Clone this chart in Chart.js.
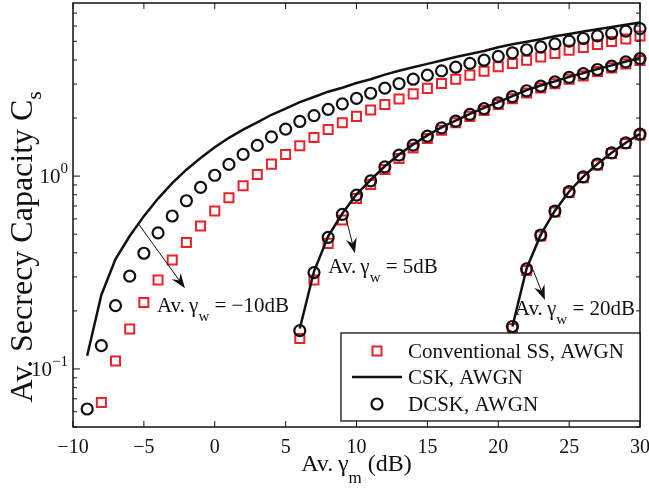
<!DOCTYPE html>
<html>
<head>
<meta charset="utf-8">
<title>Av. Secrecy Capacity</title>
<script src="https://cdn.jsdelivr.net/npm/chart.js@4.4.1/dist/chart.umd.min.js"></script>
<style>
  html, body { margin: 0; padding: 0; background: #fff; }
  #capacityChart { display: block; }
</style>
</head>
<body>
<canvas id="capacityChart" width="649" height="489"></canvas>
<script>
// Av. gamma_m (dB) for each Av. gamma_w group
const gammaM_w10 = [-9, -8, -7, -6, -5, -4, -3, -2, -1, 0, 1, 2, 3, 4, 5, 6, 7, 8, 9, 10,
                    11, 12, 13, 14, 15, 16, 17, 18, 19, 20, 21, 22, 23, 24, 25, 26, 27, 28, 29, 30];
const gammaM_w5 = [6, 7, 8, 9, 10, 11, 12, 13, 14, 15, 16, 17, 18, 19, 20,
                   21, 22, 23, 24, 25, 26, 27, 28, 29, 30];
const gammaM_w20 = [21, 22, 23, 24, 25, 26, 27, 28, 29, 30];

// Conventional SS, AWGN (red squares)
const ssW10 = [null, 0.067, 0.110, 0.161, 0.221, 0.289, 0.367, 0.453, 0.551, 0.659, 0.772, 0.891, 1.02, 1.154, 1.295,
               1.436, 1.587, 1.746, 1.89, 2.04, 2.20, 2.35, 2.51, 2.67, 2.85, 3.02, 3.18, 3.34, 3.50, 3.69,
               3.84, 3.99, 4.15, 4.32, 4.50, 4.64, 4.81, 4.99, 5.14, 5.33];
const ssW5 = [0.144, 0.289, 0.448, 0.592, 0.766, 0.906, 1.083, 1.235, 1.40, 1.567, 1.73, 1.89, 2.04, 2.19, 2.35,
              2.52, 2.70, 2.86, 3.01, 3.18, 3.31, 3.49, 3.64, 3.82, 3.98];
const ssW20 = [0.162, 0.324, 0.489, 0.652, 0.822, 0.982, 1.143, 1.31, 1.475, 1.635];

// CSK, AWGN (solid line)
const cskW10 = [0.117, 0.242, 0.371, 0.489, 0.62, 0.765, 0.92, 1.08, 1.24, 1.41, 1.58, 1.74, 1.90, 2.08, 2.24,
                2.42, 2.57, 2.74, 2.87, 3.04, 3.18, 3.36, 3.52, 3.67, 3.82, 3.98, 4.15, 4.30, 4.45, 4.66,
                4.83, 4.98, 5.13, 5.31, 5.46, 5.62, 5.77, 5.93, 6.09, 6.26];
const cskW5 = [0.162, 0.32, 0.487, 0.64, 0.805, 0.955, 1.125, 1.295, 1.46, 1.625, 1.79, 1.94, 2.10, 2.26, 2.42,
               2.60, 2.79, 2.95, 3.10, 3.27, 3.42, 3.59, 3.75, 3.93, 4.10];
const cskW20 = [0.166, 0.332, 0.497, 0.662, 0.832, 0.994, 1.157, 1.323, 1.49, 1.655];

// DCSK, AWGN (black circles)
const dcskW10 = [0.062, 0.132, 0.213, 0.303, 0.398, 0.508, 0.621, 0.745, 0.874, 1.01, 1.15, 1.295, 1.443, 1.598, 1.752,
                 1.92, 2.06, 2.22, 2.37, 2.53, 2.69, 2.86, 3.02, 3.18, 3.34, 3.51, 3.67, 3.84, 3.99, 4.18,
                 4.36, 4.52, 4.68, 4.85, 5.01, 5.17, 5.33, 5.49, 5.65, 5.82];
const dcskW5 = [0.158, 0.316, 0.481, 0.633, 0.797, 0.945, 1.117, 1.285, 1.447, 1.611, 1.78, 1.927, 2.088, 2.24, 2.40,
                2.58, 2.77, 2.93, 3.08, 3.25, 3.40, 3.57, 3.72, 3.91, 4.07];
const dcskW20 = [0.166, 0.330, 0.495, 0.659, 0.830, 0.992, 1.154, 1.32, 1.488, 1.65];

// Axis ticks
const xTicks = [-10, -5, 0, 5, 10, 15, 20, 25, 30];
const yMajorTicks = [0.1, 1];
const yMinorTicks = [0.05, 0.06, 0.07, 0.08, 0.09, 0.2, 0.3, 0.4, 0.5, 0.6, 0.7, 0.8, 0.9, 2, 3, 4, 5, 6, 7];

// Legend labels
const legendLabels = ['Conventional SS, AWGN', 'CSK, AWGN', 'DCSK, AWGN'];

// Arrow annotations, in data units (x in dB, y in capacity)
const arrowNotes = [
    { from: [-5.37, 0.564], to: [-2.1, 0.262], at: [-4.08, 0.198], value: '\u221210dB' },
    { from: [9.25, 0.61], to: [9.89, 0.398], at: [8.0, 0.313], value: '5dB' },
    { from: [22.46, 0.326], to: [23.29, 0.228], at: [21.17, 0.19], value: '20dB' }
];

const FONT = '"Liberation Serif", "Times New Roman", serif';
const RED = '#e8232b';
const INK = '#111';

function toPoints(xs, ys) {
    const pts = [];
    xs.forEach((x, i) => {
        if (ys[i] !== null) pts.push({ x: x, y: ys[i] });
    });
    return pts;
}

function formatX(v) {
    return v < 0 ? '\u2212' + Math.abs(v) : String(v);
}

// Draw text made of pieces (normal / sub / sup)
function drawRichText(ctx, parts, x, y, align) {
    let total = 0;
    parts.forEach(p => {
        ctx.font = p.size + 'px ' + FONT;
        p.w = ctx.measureText(p.t).width;
        total += p.w;
    });
    let cx = x;
    if (align === 'center') cx = x - total / 2;
    if (align === 'right') cx = x - total;
    ctx.textAlign = 'left';
    ctx.textBaseline = 'alphabetic';
    parts.forEach(p => {
        ctx.font = p.size + 'px ' + FONT;
        ctx.fillText(p.t, cx, y + (p.dy || 0));
        cx += p.w;
    });
}

function drawArrow(ctx, x1, y1, x2, y2) {
    const ang = Math.atan2(y2 - y1, x2 - x1);
    const headLen = 15, halfW = 5.5, notch = 10;
    ctx.beginPath();
    ctx.moveTo(x1, y1);
    ctx.lineTo(x2 - Math.cos(ang) * notch, y2 - Math.sin(ang) * notch);
    ctx.stroke();
    ctx.save();
    ctx.translate(x2, y2);
    ctx.rotate(ang);
    ctx.beginPath();
    ctx.moveTo(0, 0);
    ctx.lineTo(-headLen, -halfW);
    ctx.lineTo(-notch, 0);
    ctx.lineTo(-headLen, halfW);
    ctx.closePath();
    ctx.fill();
    ctx.restore();
}

// Box, inward ticks, y labels, axis titles and arrows
const axesPlugin = {
    id: 'matlabAxes',
    afterDatasetsDraw(chart) {
        const ctx = chart.ctx;
        const area = chart.chartArea;
        const xs = chart.scales.x;
        const ys = chart.scales.y;
        ctx.save();
        ctx.strokeStyle = INK;
        ctx.fillStyle = INK;

        // axes box
        ctx.lineWidth = 1.5;
        ctx.strokeRect(area.left, area.top, area.right - area.left, area.bottom - area.top);

        // ticks
        ctx.lineWidth = 1;
        ctx.beginPath();
        xTicks.forEach(v => {
            const px = xs.getPixelForValue(v);
            ctx.moveTo(px, area.bottom); ctx.lineTo(px, area.bottom - 6);
            ctx.moveTo(px, area.top); ctx.lineTo(px, area.top + 6);
        });
        yMajorTicks.forEach(v => {
            const py = ys.getPixelForValue(v);
            ctx.moveTo(area.left, py); ctx.lineTo(area.left + 7, py);
            ctx.moveTo(area.right, py); ctx.lineTo(area.right - 7, py);
        });
        yMinorTicks.forEach(v => {
            const py = ys.getPixelForValue(v);
            ctx.moveTo(area.left, py); ctx.lineTo(area.left + 4, py);
            ctx.moveTo(area.right, py); ctx.lineTo(area.right - 4, py);
        });
        ctx.stroke();

        // y tick labels 10^-1, 10^0
        yMajorTicks.forEach(v => {
            const py = ys.getPixelForValue(v);
            const exp = Math.round(Math.log10(v));
            drawRichText(ctx, [
                { t: '10', size: 21 },
                { t: exp < 0 ? '\u2212' + Math.abs(exp) : String(exp), size: 15, dy: -10 }
            ], area.left - 5, py + 7, 'right');
        });

        // x axis title
        drawRichText(ctx, [
            { t: 'Av.\u2009\u03b3', size: 24 },
            { t: 'm', size: 17, dy: 12 },
            { t: ' (dB)', size: 24 }
        ], (area.left + area.right) / 2, area.bottom + 44, 'center');

        // y axis title (rotated)
        ctx.save();
        ctx.translate(32, 247);
        ctx.rotate(-Math.PI / 2);
        drawRichText(ctx, [
            { t: 'Av. Secrecy Capacity C', size: 32 },
            { t: 's', size: 21, dy: 9 }
        ], 0, 0, 'center');
        ctx.restore();

        // arrows with gamma_w labels
        ctx.lineWidth = 1;
        arrowNotes.forEach(n => {
            drawArrow(ctx,
                xs.getPixelForValue(n.from[0]), ys.getPixelForValue(n.from[1]),
                xs.getPixelForValue(n.to[0]), ys.getPixelForValue(n.to[1]));
            drawRichText(ctx, [
                { t: 'Av.\u2009\u03b3', size: 21 },
                { t: 'w', size: 15, dy: 9 },
                { t: ' = ' + n.value, size: 21 }
            ], xs.getPixelForValue(n.at[0]), ys.getPixelForValue(n.at[1]), 'left');
        });
        ctx.restore();
    }
};

// Legend box in the lower right corner of the axes
const legendPlugin = {
    id: 'boxLegend',
    afterDraw(chart) {
        const ctx = chart.ctx;
        const area = chart.chartArea;
        const w = 299, h = 88;
        const x0 = area.right - w, y0 = area.bottom - 6 - h;
        const rows = [y0 + 18, y0 + 44, y0 + 71];
        const mx = x0 + 36;
        ctx.save();
        ctx.fillStyle = '#fff';
        ctx.fillRect(x0, y0, w, h);
        ctx.strokeStyle = INK;
        ctx.lineWidth = 1.3;
        ctx.strokeRect(x0, y0, w, h);

        // square marker
        ctx.strokeStyle = RED;
        ctx.lineWidth = 2;
        ctx.strokeRect(mx - 4.5, rows[0] - 4.5, 9, 9);
        // line
        ctx.strokeStyle = INK;
        ctx.lineWidth = 2.5;
        ctx.beginPath();
        ctx.moveTo(x0 + 11, rows[1]);
        ctx.lineTo(x0 + 61, rows[1]);
        ctx.stroke();
        // circle marker
        ctx.lineWidth = 2.2;
        ctx.beginPath();
        ctx.arc(mx, rows[2], 5.5, 0, Math.PI * 2);
        ctx.stroke();

        ctx.fillStyle = INK;
        legendLabels.forEach((label, i) => {
            drawRichText(ctx, [{ t: label, size: 21 }], x0 + 67, rows[i] + 7, 'left');
        });
        ctx.restore();
    }
};

const ssStyle = {
    showLine: false, pointStyle: 'rect', pointRadius: 6.4, pointBorderWidth: 2,
    pointBorderColor: RED, pointBackgroundColor: 'rgba(0,0,0,0)', borderColor: RED, order: 3, clip: false
};
const cskStyle = {
    showLine: true, borderColor: INK, borderWidth: 2.5, pointRadius: 0, tension: 0, fill: false, order: 2, clip: false
};
const dcskStyle = {
    showLine: false, pointStyle: 'circle', pointRadius: 5.5, pointBorderWidth: 2.2,
    pointBorderColor: INK, pointBackgroundColor: 'rgba(0,0,0,0)', borderColor: INK, order: 1, clip: false
};

const datasets = [
    Object.assign({ label: 'DCSK, AWGN', data: toPoints(gammaM_w10, dcskW10) }, dcskStyle),
    Object.assign({ label: 'DCSK, AWGN', data: toPoints(gammaM_w5, dcskW5) }, dcskStyle),
    Object.assign({ label: 'DCSK, AWGN', data: toPoints(gammaM_w20, dcskW20) }, dcskStyle),
    Object.assign({ label: 'CSK, AWGN', data: toPoints(gammaM_w10, cskW10) }, cskStyle),
    Object.assign({ label: 'CSK, AWGN', data: toPoints(gammaM_w5, cskW5) }, cskStyle),
    Object.assign({ label: 'CSK, AWGN', data: toPoints(gammaM_w20, cskW20) }, cskStyle),
    Object.assign({ label: 'Conventional SS, AWGN', data: toPoints(gammaM_w10, ssW10) }, ssStyle),
    Object.assign({ label: 'Conventional SS, AWGN', data: toPoints(gammaM_w5, ssW5) }, ssStyle),
    Object.assign({ label: 'Conventional SS, AWGN', data: toPoints(gammaM_w20, ssW20) }, ssStyle)
];

// strip the automatic label padding so the plot box lands where the reference has it
function fixScale(s, horizontal) {
    if (horizontal) {
        s.height = 62;
    } else {
        s.width = 0;
    }
    s.paddingLeft = 0;
    s.paddingRight = 0;
    s.paddingTop = 0;
    s.paddingBottom = 0;
}

const ctx = document.getElementById('capacityChart').getContext('2d');
new Chart(ctx, {
    type: 'line',
    data: { datasets: datasets },
    options: {
        responsive: false,
        animation: false,
        devicePixelRatio: 1,
        layout: { autoPadding: false, padding: { left: 73, right: 9, top: 3, bottom: 0 } },
        plugins: {
            legend: { display: false },
            tooltip: { enabled: false }
        },
        scales: {
            x: {
                type: 'linear',
                min: -10,
                max: 30,
                grid: { display: false, drawTicks: false },
                border: { display: false },
                ticks: {
                    stepSize: 5,
                    padding: 9,
                    maxRotation: 0,
                    autoSkip: false,
                    color: INK,
                    font: { family: FONT, size: 20 },
                    callback: v => formatX(v)
                },
                afterFit: s => fixScale(s, true)
            },
            y: {
                type: 'logarithmic',
                min: 0.05,
                max: 7.9,
                grid: { display: false, drawTicks: false },
                border: { display: false },
                ticks: { display: false },
                afterFit: s => fixScale(s, false)
            }
        }
    },
    plugins: [axesPlugin, legendPlugin]
});
</script>
</body>
</html>
